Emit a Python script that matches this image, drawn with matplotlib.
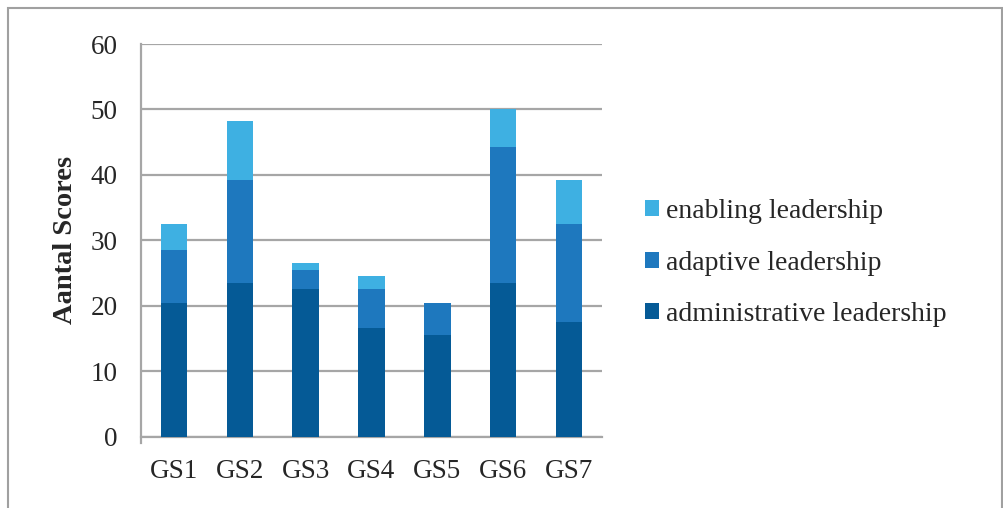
import matplotlib
matplotlib.use("Agg")
import matplotlib.pyplot as plt
import numpy as np
from matplotlib.patches import Rectangle

# data
groups = ['GS1', 'GS2', 'GS3', 'GS4', 'GS5', 'GS6', 'GS7']
administrative = [20.5, 23.5, 22.5, 16.6, 15.5, 23.5, 17.5]
adaptive = [8.0, 15.7, 3.0, 5.9, 5.0, 20.7, 15.0]
enabling = [4.0, 9.0, 1.0, 2.0, 0.0, 5.8, 6.7]

series_names = ['administrative leadership', 'adaptive leadership', 'enabling leadership']
colors = ['#055A96', '#1E78BE', '#3EB0E2']

plt.rcParams['font.family'] = ['Liberation Serif', 'DejaVu Serif']
text_color = '#262626'
grid_color = '#A6A6A6'

fig = plt.figure(figsize=(10.04, 5.08), dpi=100)
ax = fig.add_axes([141 / 1004, 71.3 / 508, 461 / 1004, 392.7 / 508])

x = np.arange(len(groups))
width = 0.4
bottom = np.zeros(len(groups))
handles = []
for vals, name, c in zip([administrative, adaptive, enabling], series_names, colors):
    b = ax.bar(x, vals, width, bottom=bottom, color=c, label=name, zorder=3)
    handles.append(b)
    bottom += np.array(vals)

ax.set_xlim(-0.5, len(groups) - 0.5)
ax.set_ylim(0, 60)
ax.set_yticks(np.arange(0, 61, 10))
ax.set_xticks(x)
ax.set_xticklabels(groups)
ax.yaxis.grid(True, color=grid_color, linewidth=1.6, zorder=0)
ax.set_axisbelow(True)

for s in ['top', 'right']:
    ax.spines[s].set_visible(False)
ax.spines['bottom'].set_color(grid_color)
ax.spines['bottom'].set_linewidth(1.6)
ax.spines['left'].set_color(grid_color)
ax.spines['left'].set_linewidth(1.6)
ax.spines['left'].set_bounds(-1.0, 60)

ax.tick_params(axis='both', length=0, labelsize=19.5, labelcolor=text_color)
ax.tick_params(axis='y', pad=17)
ax.tick_params(axis='x', pad=16)

ax.set_ylabel('Aantal Scores', fontsize=20.5, fontweight='bold', color=text_color)
ax.yaxis.set_label_coords(-0.136, 0.5)

leg = fig.legend(handles[::-1], series_names[::-1], loc='center left',
                 bbox_to_anchor=(620 / 1004, 1 - 263 / 508), frameon=False,
                 fontsize=20, labelcolor=text_color, handlelength=0.5,
                 handleheight=0.5, handletextpad=0.25, labelspacing=0.95)

# outer chart border
fig.add_artist(Rectangle((8.5 / 1004, -0.05), (1002 - 8.5) / 1004, 1.05 - 8.5 / 508,
                         transform=fig.transFigure, fill=False,
                         edgecolor='#A0A0A0', linewidth=1.5))

fig.savefig('out.png', dpi=100, facecolor='white')
